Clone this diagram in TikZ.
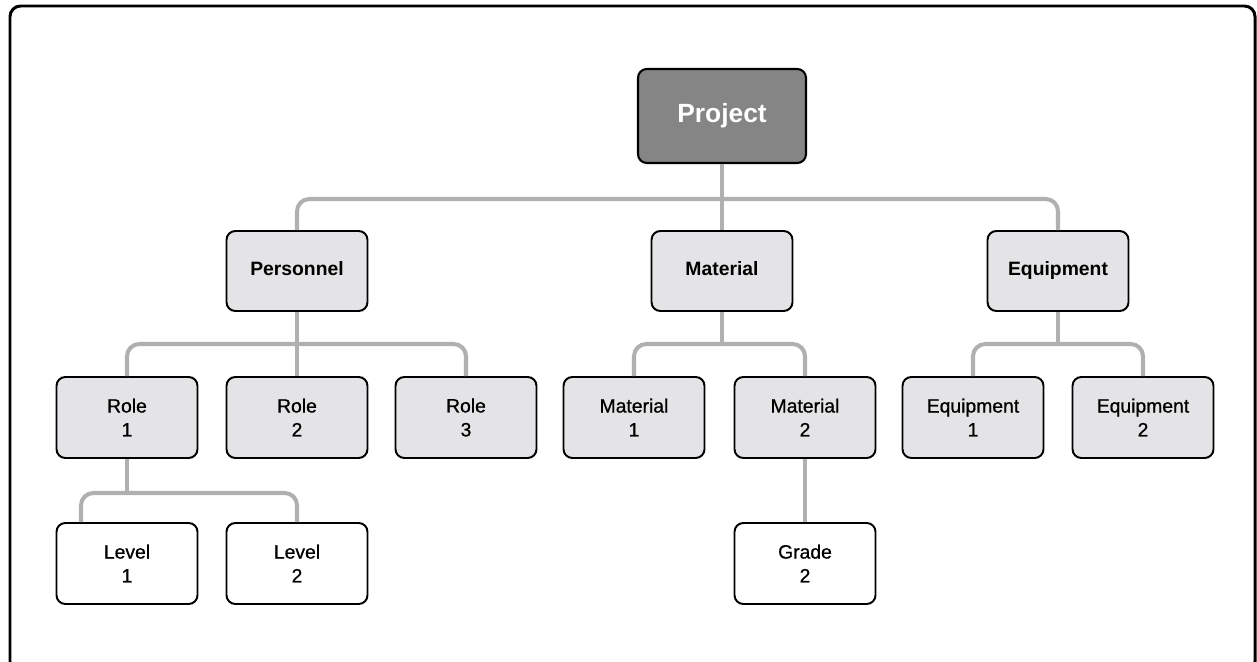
\documentclass[tikz,border=0pt]{standalone}
\usepackage{fontspec}
\setmainfont{Liberation Sans}
\newfontfamily\wbsmedium[FakeBold=0.8]{Liberation Sans}
\definecolor{wbsdark}{RGB}{133,133,133}
\definecolor{wbslight}{RGB}{228,228,230}
\definecolor{wbsline}{RGB}{176,176,176}
\usetikzlibrary{positioning}

\begin{document}
\begin{tikzpicture}[x=0.02cm,y=-0.02cm,
  wbsroot/.style={draw,line width=1.2pt,rounded corners=5pt,fill=wbsdark,text=white,
    minimum width=3.36cm,minimum height=1.88cm,align=center,
    font=\fontsize{15pt}{18pt}\selectfont\bfseries},
  wbsgroup/.style={draw,line width=1.1pt,rounded corners=5pt,fill=wbslight,
    minimum width=2.82cm,minimum height=1.6cm,align=center,
    text height=8pt,text depth=2.5pt,
    font=\fontsize{11pt}{13.6pt}\selectfont\bfseries},
  wbsitem/.style={draw,line width=1.1pt,rounded corners=5pt,fill=wbslight,
    minimum width=2.82cm,minimum height=1.62cm,align=center,
    font=\fontsize{11pt}{13.6pt}\selectfont\wbsmedium},
  wbsleaf/.style={wbsitem,fill=white},
  wbslink/.style={draw=wbsline,line width=2.3pt,rounded corners=7pt}
]
  \useasboundingbox (0,0) rectangle (1257,662);
  % Frame
  \draw[line width=1.7pt,rounded corners=6pt] (10,6) rectangle (1255,672);

  % Top
  \node[wbsroot] (proj) at (722,116) {Project};

  % Groups
  \node[wbsgroup] (pers) at (297,271) {Personnel};
  \node[wbsgroup] (mat) at (722,271) {Material};
  \node[wbsgroup] (equ) at (1058,271) {Equipment};

  % Items
  \node[wbsitem] (role1) at (127,417.5) {Role\\1};
  \node[wbsitem] (role2) at (297,417.5) {Role\\2};
  \node[wbsitem] (role3) at (466,417.5) {Role\\3};
  \node[wbsitem] (mat1) at (634,417.5) {Material\\1};
  \node[wbsitem] (mat2) at (805,417.5) {Material\\2};
  \node[wbsitem] (equ1) at (973,417.5) {Equipment\\1};
  \node[wbsitem] (equ2) at (1143,417.5) {Equipment\\2};

  % Leaves
  \node[wbsleaf] (lev1) at (127,563.5) {Level\\1};
  \node[wbsleaf] (lev2) at (297,563.5) {Level\\2};
  \node[wbsleaf] (grade2) at (805,563.5) {Grade\\2};

  % Links
  \draw[wbslink] (pers.north) |- (722,199) -| (equ.north);
  \draw[wbslink] (proj.south) -- (mat.north);
  \draw[wbslink] (role1.north) |- (297,344) -| (role3.north);
  \draw[wbslink] (pers.south) -- (role2.north);
  \draw[wbslink] (mat1.north) |- (722,344) -| (mat2.north);
  \draw[wbslink] (mat.south) -- (722,344);
  \draw[wbslink] (equ1.north) |- (1058,344) -| (equ2.north);
  \draw[wbslink] (equ.south) -- (1058,344);
  \coordinate (lev1in) at ([xshift=-0.92cm]lev1.north);
  \draw[wbslink] (lev1in) |- (127,493) -| (lev2.north);
  \draw[wbslink] (role1.south) -- (127,493);
  \draw[wbslink] (mat2.south) -- (grade2.north);
\end{tikzpicture}
\end{document}
